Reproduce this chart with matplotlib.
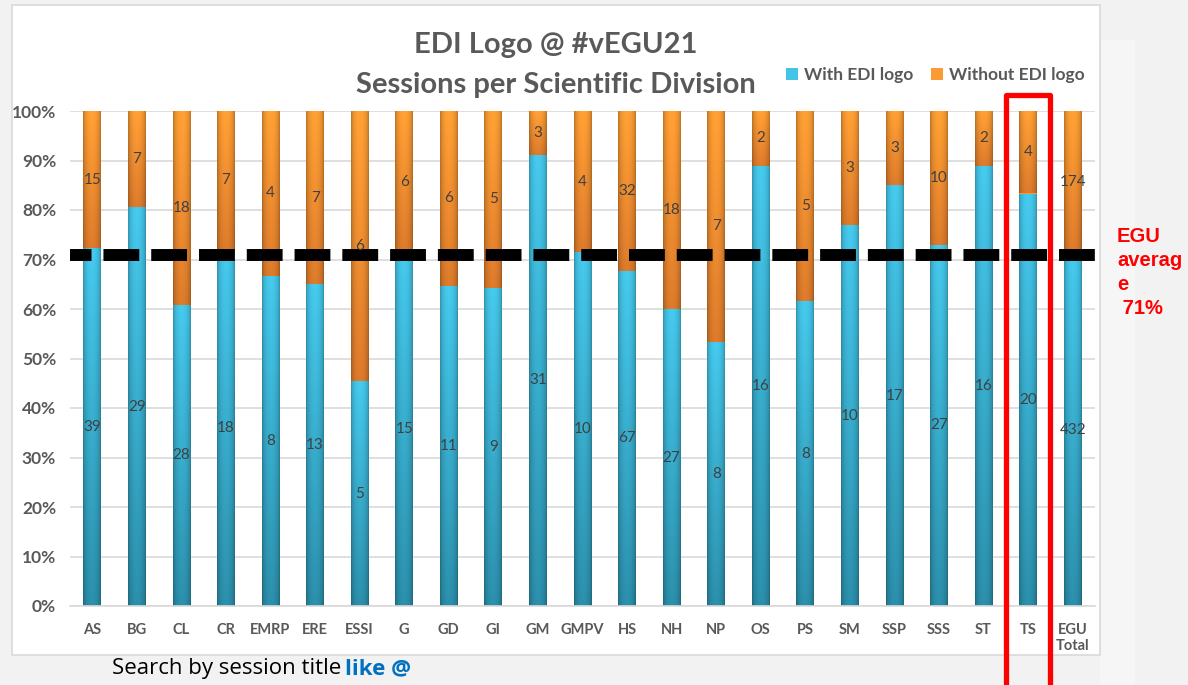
import numpy as np
import matplotlib.pyplot as plt
from matplotlib.colors import to_rgb
from matplotlib.patches import Rectangle

# sessions per division, with / without the EDI logo
divisions = ['AS', 'BG', 'CL', 'CR', 'EMRP', 'ERE', 'ESSI', 'G', 'GD', 'GI', 'GM', 'GMPV',
             'HS', 'NH', 'NP', 'OS', 'PS', 'SM', 'SSP', 'SSS', 'ST', 'TS', 'EGU\nTotal']
with_logo = [39, 29, 28, 18, 8, 13, 5, 15, 11, 9, 31, 10, 67, 27, 8, 16, 8, 10, 17, 27, 16, 20, 432]
without_logo = [15, 7, 18, 7, 4, 7, 6, 6, 6, 5, 3, 4, 32, 18, 7, 2, 5, 3, 3, 10, 2, 4, 174]
egu_average = 71
highlight = 'TS'

W, H = 1188, 685
grey = '#595959'
blue_top, blue_bot = '#43c3e6', '#2a8ba6'
orange_top, orange_bot = '#fa9c33', '#d6772a'


def px(x, y):
    # pixel position -> figure fraction
    return x / W, 1 - y / H


def shade(ax, patch, top, bot):
    # cylinder-like gradient clipped to the bar
    x0, y0 = patch.get_x(), patch.get_y()
    w, h = patch.get_width(), patch.get_height()
    t = np.linspace(0, 1, 40)
    across = 0.72 + 0.32 * np.sin(np.pi * t) ** 0.5
    down = np.linspace(0, 1, 60)[:, None]
    col = np.array(to_rgb(bot)) + (np.array(to_rgb(top)) - np.array(to_rgb(bot))) * down
    img = np.clip(col[:, None, :] * across[None, :, None], 0, 1)
    im = ax.imshow(img, extent=[x0, x0 + w, y0, y0 + h], origin='lower',
                   aspect='auto', interpolation='bilinear', zorder=2.1)
    im.set_clip_path(patch)


totals = [a + b for a, b in zip(with_logo, without_logo)]
with_pct = [100 * a / t for a, t in zip(with_logo, totals)]
without_pct = [100 * b / t for b, t in zip(without_logo, totals)]

fig = plt.figure(figsize=(W / 100, H / 100), dpi=100)
fig.patch.set_facecolor('#f2f2f2')
x1, _ = px(1100, 0)
fig.add_artist(Rectangle((x1, 0), 35 / W, 1 - 40 / H, transform=fig.transFigure,
                         facecolor='#f6f6f6', edgecolor='none', zorder=0))
x0, y0 = px(12, 655)
fig.add_artist(Rectangle((x0, y0), 1088 / W, 650 / H, transform=fig.transFigure,
                         facecolor='white', edgecolor='#d9d9d9', lw=1.2, zorder=0))

l, b = px(70, 606)
ax = fig.add_axes([l, b, 1025 / W, 495 / H])
ax.set_facecolor('none')

x = np.arange(len(divisions))
bw = 0.4
bars_with = ax.bar(x, with_pct, bw, color=blue_top, edgecolor='none',
                   label='With EDI logo', zorder=2)
bars_without = ax.bar(x, without_pct, bw, bottom=with_pct, color=orange_top,
                      edgecolor='none', label='Without EDI logo', zorder=2)
for p in bars_with:
    shade(ax, p, blue_top, blue_bot)
for p in bars_without:
    shade(ax, p, orange_top, orange_bot)

# value labels in the middle of each segment
for i in range(len(divisions)):
    ax.text(x[i], with_pct[i] / 2, str(with_logo[i]), ha='center', va='center',
            fontsize=11, color='#404040', family='Lato', zorder=4)
    ax.text(x[i], with_pct[i] + without_pct[i] / 2, str(without_logo[i]), ha='center',
            va='center', fontsize=11, color='#404040', family='Lato', zorder=4)

ax.axhline(egu_average, color='black', lw=8.6, linestyle=(1.2, (3, 1)),
           dash_capstyle='butt', zorder=3)

ax.set_xlim(-0.5, len(divisions) - 0.5)
ax.set_ylim(0, 100)
ax.set_yticks(range(0, 101, 10))
ax.set_yticklabels([f'{v}%' for v in range(0, 101, 10)])
ax.set_xticks(x)
ax.set_xticklabels(divisions)
ax.yaxis.grid(True, color='#d9d9d9', lw=1.2, zorder=0)
ax.set_axisbelow(True)
for s in ['top', 'right', 'left']:
    ax.spines[s].set_visible(False)
ax.spines['bottom'].set_color('#d9d9d9')
ax.spines['bottom'].set_linewidth(1.2)
ax.tick_params(axis='y', length=0, pad=10, labelsize=12.5, labelcolor=grey)
ax.tick_params(axis='x', length=0, pad=12, labelsize=10.5, labelcolor=grey)
for lab in ax.get_yticklabels():
    lab.set_family('Lato')
    lab.set_fontweight('bold')
for lab in ax.get_xticklabels():
    lab.set_family('Lato')
    lab.set_fontweight('bold')

# red box round the highlighted division
hi = divisions.index(highlight)
ax.add_patch(Rectangle((hi - 0.5, -30), 1.0, 133.2, fill=False, edgecolor='red',
                       lw=3.8, joinstyle='round', clip_on=False, zorder=6))

fx, fy = px(556, 45)
fig.text(fx, fy, 'EDI Logo @ #vEGU21', ha='center', va='center', fontsize=21,
         fontweight='bold', color=grey, family='Lato')
fx, fy = px(556, 85)
fig.text(fx, fy, 'Sessions per Scientific Division', ha='center', va='center',
         fontsize=21, fontweight='bold', color=grey, family='Lato')

lx, ly = px(1100, 75)
fig.legend(handles=[bars_with, bars_without], loc='center right', bbox_to_anchor=(lx, ly),
           ncol=2, frameon=False, handlelength=0.7, handleheight=0.7, handletextpad=0.35,
           columnspacing=1.0, prop={'family': 'Lato', 'size': 12.5, 'weight': 'bold'},
           labelcolor=grey)

fx, fy = px(1117, 227)
fig.text(fx, fy, 'EGU\naverag\ne\n 71%', ha='left', va='top', fontsize=14.5,
         fontweight='bold', color='red', family='Liberation Sans', linespacing=1.33)

# caption under the chart
fx, fy = px(112, 658)
fig.text(fx, fy, 'Search by session title', ha='left', va='top', fontsize=16,
         color='black', family='Open Sans')
fx, fy = px(345, 658)
fig.text(fx, fy, 'like @', ha='left', va='top', fontsize=16, fontweight='bold',
         color='#0070c0', family='Open Sans')

fig.savefig('out.png', dpi=100, facecolor=fig.get_facecolor())
